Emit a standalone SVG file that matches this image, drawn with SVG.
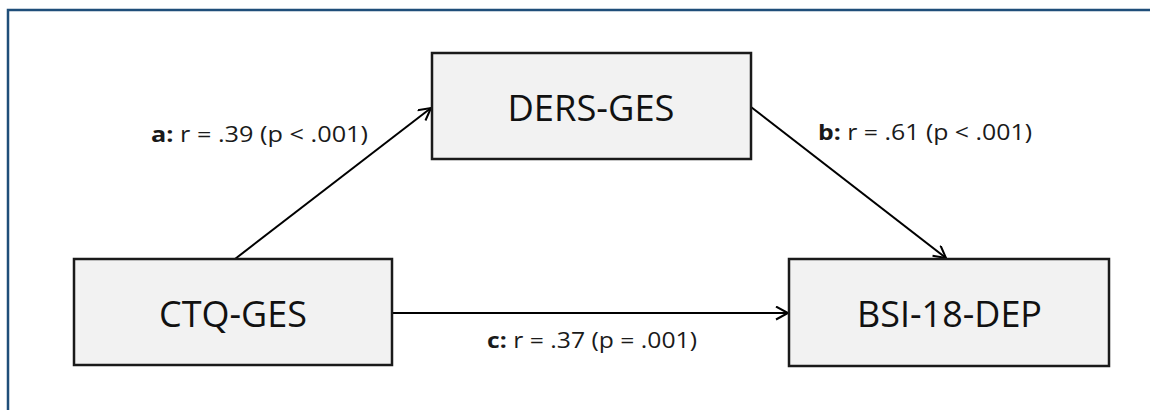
<svg xmlns="http://www.w3.org/2000/svg" width="1150" height="410" viewBox="0 0 1150 410">
  <style>
    .frame { fill: none; stroke: #1f4e79; stroke-width: 2.5; }
    .box { fill: #f2f2f2; stroke: #1a1a1a; stroke-width: 2.5; }
    .boxlabel { font-family: "Open Sans", "Noto Sans", sans-serif; font-size: 37px; fill: #111; text-anchor: middle; }
    .edge { fill: none; stroke: #000; stroke-width: 2; }
    .edgelabel { font-family: "Open Sans", "Noto Sans", sans-serif; font-size: 21px; fill: #1a1a1a; }
    .key { font-weight: bold; }
  </style>
  <defs>
    <marker id="arrow" markerUnits="userSpaceOnUse" markerWidth="16" markerHeight="16" refX="13" refY="7" orient="auto">
      <path d="M1,0.5 L13,7 L1,13.5" fill="none" stroke="#000" stroke-width="2"/>
    </marker>
  </defs>

  <!-- outer frame -->
  <rect class="frame" x="8" y="10" width="1160" height="420"/>

  <!-- connectors -->
  <g id="connectors">
    <line class="edge" x1="235" y1="259" x2="431" y2="108" marker-end="url(#arrow)"/>
    <line class="edge" x1="751" y1="107" x2="946" y2="258" marker-end="url(#arrow)"/>
    <line class="edge" x1="392" y1="313" x2="788" y2="313" marker-end="url(#arrow)"/>
    <text class="edgelabel" x="151" y="142" textLength="217" lengthAdjust="spacingAndGlyphs"><tspan class="key">a:</tspan>  r = .39 (p &lt; .001)</text>
    <text class="edgelabel" x="818" y="140" textLength="214" lengthAdjust="spacingAndGlyphs"><tspan class="key">b:</tspan> r = .61 (p &lt; .001)</text>
    <text class="edgelabel" x="487" y="348" textLength="210" lengthAdjust="spacingAndGlyphs"><tspan class="key">c:</tspan> r = .37 (p = .001)</text>
  </g>

  <g id="node-ders">
    <rect class="box" x="432" y="53" width="319" height="106"/>
    <text class="boxlabel" x="591" y="121" textLength="167" lengthAdjust="spacingAndGlyphs">DERS-GES</text>
  </g>

  <g id="node-ctq">
    <rect class="box" x="74" y="259" width="318" height="106"/>
    <text class="boxlabel" x="233" y="327" textLength="148" lengthAdjust="spacingAndGlyphs">CTQ-GES</text>
  </g>

  <g id="node-bsi">
    <rect class="box" x="789" y="259" width="320" height="107"/>
    <text class="boxlabel" x="949.5" y="327" textLength="185" lengthAdjust="spacingAndGlyphs">BSI-18-DEP</text>
  </g>
</svg>
